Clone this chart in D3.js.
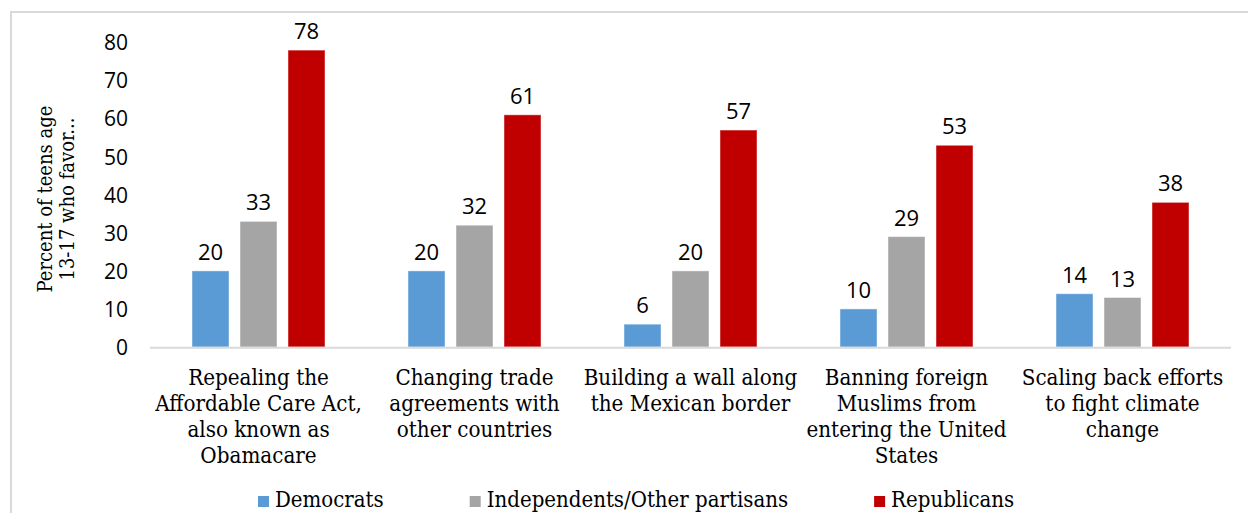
<!DOCTYPE html>
<html>
<head>
<meta charset="utf-8">
<script src="https://cdn.jsdelivr.net/npm/d3@7"></script>
<style>
  html, body { margin: 0; padding: 0; background: #fff; }
  svg { display: block; }
  .num { font-family: "Open Sans", "Noto Sans", sans-serif; fill: #000; }
  .slab { font-family: "DejaVu Serif Condensed", "DejaVu Serif", serif; font-stretch: condensed; fill: #000; }
</style>
</head>
<body>
<svg id="chart" width="1248" height="513"></svg>
<script>
// Share of teens (13-17) who favor each policy, by party identification
const categories = [
  ["Repealing the", "Affordable Care Act,", "also known as", "Obamacare"],
  ["Changing trade", "agreements with", "other countries"],
  ["Building a wall along", "the Mexican border"],
  ["Banning foreign", "Muslims from", "entering the United", "States"],
  ["Scaling back efforts", "to fight climate", "change"]
];
const seriesNames = ["Democrats", "Independents/Other partisans", "Republicans"];
const democrats    = [20, 20, 6, 10, 14];
const independents = [33, 32, 20, 29, 13];
const republicans  = [78, 61, 57, 53, 38];
const yTicks = [0, 10, 20, 30, 40, 50, 60, 70, 80];
const colors = ["#5b9bd5", "#a5a5a5", "#c00000"];

const series = [democrats, independents, republicans];
const svg = d3.select("#chart");

// outer frame
svg.append("path")
  .attr("d", "M11,520 V12 H1260")
  .attr("fill", "none")
  .attr("stroke", "#d9d9d9")
  .attr("stroke-width", 2);

const catIdx = categories.map((_, i) => i);
const x0 = d3.scaleBand().domain(catIdx).range([150.5, 1230.5]).padding(0);
const groupW = 133;
const x1 = d3.scaleBand().domain(d3.range(series.length))
  .range([0, groupW]).paddingInner(11 / 48).paddingOuter(0);
const y = d3.scaleLinear().domain([0, 80]).range([347, 42.5]);

// y axis labels only (no line, no ticks)
const yAxis = d3.axisLeft(y).tickValues(yTicks).tickSize(0).tickPadding(0);
const gy = svg.append("g").attr("transform", "translate(128,0)").call(yAxis);
gy.select(".domain").remove();
gy.selectAll("text")
  .attr("class", "num")
  .attr("font-size", 21)
  .attr("fill", "#000")
  .attr("dy", "0.35em");

// bars
const groups = svg.append("g").selectAll("g")
  .data(catIdx).join("g")
  .attr("transform", d => `translate(${x0(d) + (x0.bandwidth() - groupW) / 2},0)`);

groups.selectAll("rect")
  .data(c => series.map((s, k) => ({ k, v: s[c] })))
  .join("rect")
  .attr("x", d => x1(d.k))
  .attr("width", x1.bandwidth())
  .attr("y", d => y(d.v))
  .attr("height", d => y(0) - y(d.v))
  .attr("fill", d => colors[d.k])
  .attr("stroke", "rgba(255,255,255,0.45)")
  .attr("stroke-width", 1);

groups.selectAll("text.val")
  .data(c => series.map((s, k) => ({ k, v: s[c] })))
  .join("text")
  .attr("class", "val num")
  .attr("font-size", 22)
  .attr("text-anchor", "middle")
  .attr("x", d => x1(d.k) + x1.bandwidth() / 2)
  .attr("y", d => y(d.v) - 11)
  .text(d => d.v);

// baseline
svg.append("line")
  .attr("x1", 150).attr("x2", 1231)
  .attr("y1", y(0) + 0.7).attr("y2", y(0) + 0.7)
  .attr("stroke", "#d9d9d9").attr("stroke-width", 2);

// category labels
svg.append("g").selectAll("text")
  .data(catIdx).join("text")
  .attr("class", "slab")
  .attr("font-size", 22.2)
  .attr("text-anchor", "middle")
  .attr("y", 385)
  .each(function (c) {
    const t = d3.select(this);
    categories[c].forEach((line, j) => {
      t.append("tspan")
        .attr("x", x0(c) + x0.bandwidth() / 2)
        .attr("dy", j === 0 ? 0 : 26)
        .text(line);
    });
  });

// y axis title
svg.append("text")
  .attr("class", "slab")
  .attr("font-size", 20)
  .attr("text-anchor", "middle")
  .attr("transform", "translate(52,199) rotate(-90)")
  .selectAll("tspan")
  .data(["Percent of teens age", "13-17 who favor..."])
  .join("tspan")
  .attr("x", 0)
  .attr("dy", (d, i) => i === 0 ? 0 : 22)
  .text(d => d);

// legend
const legend = svg.append("g");
let lx = 258;
seriesNames.forEach((name, k) => {
  legend.append("rect")
    .attr("x", lx).attr("y", 496)
    .attr("width", 11).attr("height", 11)
    .attr("fill", colors[k]);
  const t = legend.append("text")
    .attr("class", "slab")
    .attr("font-size", 22)
    .attr("x", lx + 17).attr("y", 507)
    .text(name);
  lx += 17 + t.node().getComputedTextLength() + 86;
});
</script>
</body>
</html>
